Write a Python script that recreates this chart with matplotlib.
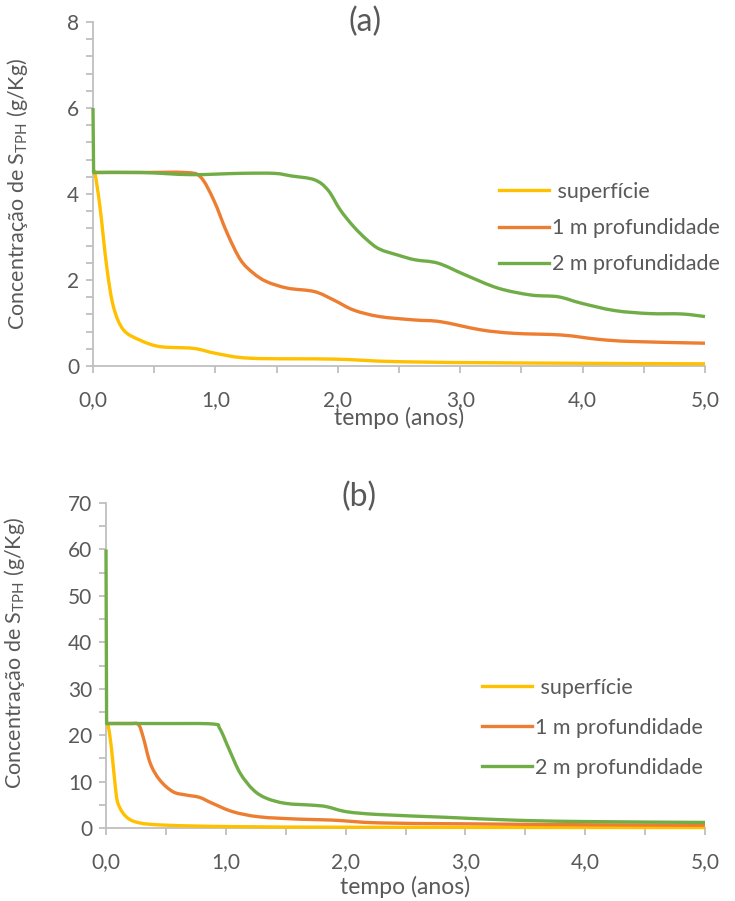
import matplotlib.pyplot as plt
from matplotlib.path import Path
from matplotlib.patches import PathPatch
from matplotlib.lines import Line2D
from matplotlib.ticker import MultipleLocator, FuncFormatter

plt.rcParams['font.family'] = ['Lato', 'DejaVu Sans']

GREY = '#595959'
AXC = '#bfbfbf'
colors = ['#FFC000', '#ED7D31', '#70AD47']
labels = [' superfície', '1 m profundidade', '2 m profundidade']

# ---- panel (a) data, g/Kg vs anos
ta_sup = [0.0, 0.016, 0.057, 0.112, 0.167, 0.249, 0.385, 0.549, 0.82, 1.01, 1.29, 1.97, 2.5, 3.5, 5.0]
ya_sup = [4.5, 4.48, 3.70, 2.31, 1.38, 0.84, 0.60, 0.45, 0.41, 0.29, 0.18, 0.16, 0.10, 0.07, 0.05]
ta_1m = [0.0, 0.4, 0.75, 0.877, 0.986, 1.096, 1.205, 1.31, 1.42, 1.59, 1.81, 1.97, 2.13, 2.34,
         2.63, 2.84, 3.17, 3.44, 3.83, 4.13, 4.40, 5.0]
ya_1m = [4.5, 4.5, 4.5, 4.40, 3.86, 3.09, 2.47, 2.16, 1.96, 1.81, 1.73, 1.53, 1.30, 1.15,
         1.07, 1.03, 0.84, 0.76, 0.72, 0.62, 0.57, 0.53]
ta_2m = [0.0, 0.005, 0.4, 0.8, 1.2, 1.48, 1.62, 1.81, 1.92, 2.02, 2.13, 2.24, 2.34,
         2.49, 2.63, 2.82, 3.04, 3.31, 3.58, 3.80, 3.99, 4.26, 4.54, 4.81, 5.0]
ya_2m = [6.0, 4.5, 4.5, 4.45, 4.48, 4.48, 4.42, 4.33, 4.09, 3.63, 3.24, 2.93, 2.72,
         2.58, 2.47, 2.39, 2.12, 1.81, 1.65, 1.61, 1.46, 1.29, 1.22, 1.21, 1.15]

# ---- panel (b) data
tb_sup = [0.0, 0.02, 0.047, 0.075, 0.10, 0.17, 0.28, 0.51, 1.06, 2.28, 5.0]
yb_sup = [22.5, 21.8, 16.8, 9.6, 5.3, 2.4, 1.1, 0.6, 0.3, 0.15, 0.1]
tb_1m = [0.0, 0.2, 0.27, 0.31, 0.37, 0.45, 0.56, 0.67, 0.78, 0.89, 1.06, 1.28, 1.62, 1.89,
         2.28, 3.0, 4.0, 5.0]
yb_1m = [22.5, 22.5, 22.3, 19.6, 13.9, 10.3, 7.8, 7.1, 6.6, 5.3, 3.5, 2.4, 1.9, 1.7,
         1.1, 0.9, 0.7, 0.6]
tb_2m = [0.0, 0.005, 0.5, 0.89, 0.95, 1.03, 1.12, 1.23, 1.34, 1.50, 1.73, 1.84, 2.01, 2.28,
         2.84, 3.39, 3.95, 5.0]
yb_2m = [60.0, 22.5, 22.5, 22.4, 21.4, 16.8, 11.8, 8.2, 6.4, 5.3, 4.9, 4.6, 3.5, 2.9,
         2.3, 1.7, 1.4, 1.2]

fig = plt.figure(figsize=(7.35, 9.01), dpi=100)
W, H = 735, 901


def smooth_line(ax, t, y, color, straight=0):
    # Excel-style smoothed line (Bezier through the points)
    pts = list(zip(t, y))
    verts = [pts[0]]
    codes = [Path.MOVETO]
    for i in range(straight):
        verts.append(pts[i + 1])
        codes.append(Path.LINETO)
    sub = pts[straight:]
    n = len(sub)
    for i in range(n - 1):
        p0 = sub[max(i - 1, 0)]
        p1 = sub[i]
        p2 = sub[i + 1]
        p3 = sub[min(i + 2, n - 1)]
        c1 = (p1[0] + (p2[0] - p0[0]) / 6, p1[1] + (p2[1] - p0[1]) / 6)
        c2 = (p2[0] - (p3[0] - p1[0]) / 6, p2[1] - (p3[1] - p1[1]) / 6)
        verts += [c1, c2, p2]
        codes += [Path.CURVE4] * 3
    patch = PathPatch(Path(verts, codes), fill=False, edgecolor=color, lw=2.4,
                      capstyle='butt', joinstyle='round', clip_on=False, zorder=3)
    ax.add_patch(patch)


def style(ax, ymax, ymajor, yminor):
    ax.set_xlim(0, 5)
    ax.set_ylim(0, ymax)
    ax.xaxis.set_major_locator(MultipleLocator(1))
    ax.xaxis.set_minor_locator(MultipleLocator(0.5))
    ax.yaxis.set_major_locator(MultipleLocator(ymajor))
    ax.yaxis.set_minor_locator(MultipleLocator(yminor))
    ax.xaxis.set_major_formatter(FuncFormatter(lambda v, p: f'{v:.1f}'.replace('.', ',')))
    ax.yaxis.set_major_formatter(FuncFormatter(lambda v, p: f'{v:.0f}'))
    for s in ['top', 'right']:
        ax.spines[s].set_visible(False)
    for s in ['left', 'bottom']:
        ax.spines[s].set_color(AXC)
        ax.spines[s].set_linewidth(1.3)
    ax.tick_params(which='both', direction='out', color=AXC, width=1.3, length=5,
                   labelcolor=GREY, labelsize=15)
    ax.tick_params(axis='x', which='major', pad=12)
    ax.tick_params(axis='y', which='major', pad=5)


def finish(ax, series, ylabel_x, ylabel_y, xlabel_y, title, title_xy, leg_xy, leg_sp):
    for (t, y, st), c in zip(series, colors):
        smooth_line(ax, t, y, c, st)
    ax.set_ylabel('Concentração de S$_{\\mathregular{TPH}}$ (g/Kg)', color=GREY, fontsize=15.5)
    ax.yaxis.set_label_coords(ylabel_x, ylabel_y)
    ax.set_xlabel('tempo (anos)', color=GREY, fontsize=16.5)
    ax.xaxis.set_label_coords(0.5, xlabel_y)
    ax.xaxis.label.set_va('center')
    fig.text(title_xy[0] / W, 1 - title_xy[1] / H, title, fontsize=23, color=GREY,
             ha='center', va='center')
    handles = [Line2D([], [], color=c, lw=2.4) for c in colors]
    ax.legend(handles, labels, loc='upper left', bbox_to_anchor=(leg_xy[0] / W, 1 - leg_xy[1] / H),
              bbox_transform=fig.transFigure, frameon=False, fontsize=15.5, labelcolor=GREY,
              handlelength=2.3, handletextpad=0.15, labelspacing=leg_sp, borderpad=0, borderaxespad=0)


# panel (a): left 93, right 705, top 22, bottom 366 px
ax1 = fig.add_axes([93 / W, 1 - 366 / H, 612 / W, 344 / H])
style(ax1, 8, 2, 0.4)
finish(ax1, [(ta_sup, ya_sup, 0), (ta_1m, ya_1m, 0), (ta_2m, ya_2m, 1)],
       -(93 - 30) / 612, 0.5, -(418 - 366) / 344, '(a)', (365, 22), (499, 182), 0.75)

# panel (b): left 106, right 705, top 503, bottom 828 px
ax2 = fig.add_axes([106 / W, 1 - 828 / H, 599 / W, 325 / H])
style(ax2, 70, 10, 5)
finish(ax2, [(tb_sup, yb_sup, 0), (tb_1m, yb_1m, 0), (tb_2m, yb_2m, 1)],
       -(106 - 27) / 599, (828 - 653) / 325, -(887 - 828) / 325, '(b)', (359, 497), (482, 678), 0.92)

fig.savefig('out.png', dpi=100)
